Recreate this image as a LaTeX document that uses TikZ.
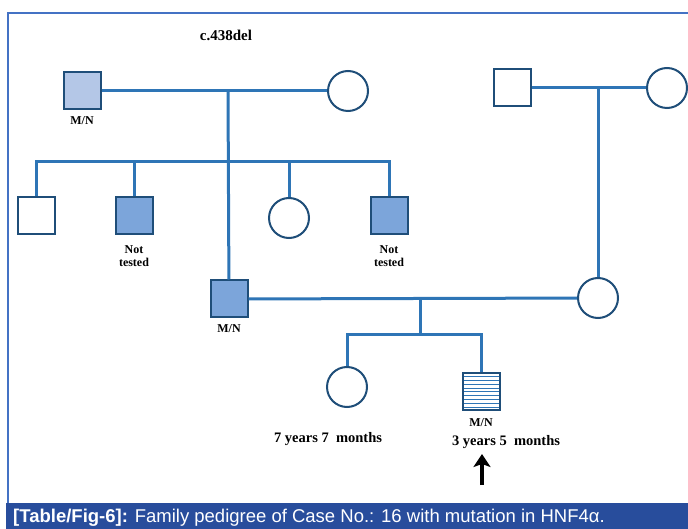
\documentclass[tikz,border=0pt]{standalone}
\usepackage{fontspec}
\setmainfont{Liberation Serif}
\newfontfamily\capfont{Liberation Sans}
\usetikzlibrary{arrows.meta,positioning}
\definecolor{linkblue}{RGB}{46,117,182}
\definecolor{edgeblue}{RGB}{31,78,121}
\definecolor{carrier}{RGB}{180,199,231}
\definecolor{affected}{RGB}{124,165,218}
\definecolor{framecol}{RGB}{68,114,196}
\definecolor{capblue}{RGB}{40,77,156}
\tikzset{
  male/.style={draw=edgeblue,line width=2pt,minimum size=37pt,inner sep=0pt,fill=white},
  female/.style={circle,draw=edgeblue,line width=2pt,minimum size=40pt,inner sep=0pt,fill=white},
  link/.style={draw=linkblue,line width=3pt},
  lbl/.style={font=\bfseries\fontsize{12}{13.5}\selectfont,align=center,inner sep=0pt},
  agelbl/.style={font=\bfseries\fontsize{14.5}{16}\selectfont,inner sep=0pt},
  hatched/.style={path picture={\foreach \k in {1,...,9}
    \draw[linkblue,line width=0.8pt] ([yshift=-\k*3.85pt]path picture bounding box.north west)
      -- ([yshift=-\k*3.85pt]path picture bounding box.north east);}}
}
\begin{document}
\begin{tikzpicture}[x=1pt,y=-1pt]
\useasboundingbox (0,0) rectangle (688,529);
\draw[framecol,line width=1.4pt] (8,503) |- (688,13);
\node[font=\bfseries\fontsize{15}{17}\selectfont] (mut) at (226,35) {c.438del};
% first generation
\node[male,fill=carrier] (gf) at (82,91) {};
\node[female] (gm) at (348,91) {};
\node[male] (rgf) at (512,88) {};
\node[female] (rgm) at (667,88) {};
% second generation
\node[male] (c1) at (36,216) {};
\node[male,fill=affected] (c2) at (134,216) {};
\node[female] (c4) at (289,218) {};
\node[male,fill=affected] (c5) at (389,216) {};
\node[male,fill=affected] (fa) at (229,299) {};
\node[female] (mo) at (598,298) {};
% third generation
\node[female] (d1) at (347,387) {};
\node[male,hatched] (pb) at (481,391) {};
\coordinate (j1) at (228,90);
\coordinate (sib1) at (228,162);
\coordinate (j2) at (598,88);
\coordinate (j3) at (420,298);
\coordinate (sib2) at (420,334);
\draw[link] (gf) -- (gm);
\draw[link] (j1) -- (fa);
\draw[link] (c1.north) |- (sib1) -| (c5.north);
\draw[link] (c2.north) -- (c2.north |- sib1);
\draw[link] (c4.north) -- (c4.north |- sib1);
\draw[link] (rgf) -- (rgm);
\draw[link] (j2) -- (mo);
\draw[link] (fa) -- (mo);
\draw[link] (j3) -- (sib2);
\draw[link] (d1.north) |- (sib2) -| (pb.north);
\node[lbl] (gfl) at (82,121) {M/N};
\node[lbl] (c2l) at (134,256) {Not\\tested};
\node[lbl] (c5l) at (389,256) {Not\\tested};
\node[lbl] (fal) at (229,329) {M/N};
\node[lbl] (pbl) at (481,423) {M/N};
\node[agelbl] (d1age) at (328,439) {7 years 7\ \ months};
\node[agelbl] (pbage) at (506,442) {3 years 5\ \ months};
\coordinate (ar0) at (482,485);
\coordinate (ar1) at (482,454);
\draw[line width=3.6pt,-{Stealth[length=13pt,width=17pt,inset=3pt]}] (ar0) -- (ar1);
% caption
\fill[capblue] (6,503) rectangle (688,529);
\node[anchor=base west,text=white,font=\capfont\fontsize{18.5}{20}\selectfont,inner sep=0pt] (cap) at (13,522.5)
  {\textbf{[Table/Fig-6]:} Family pedigree of Case No.: 16 with mutation in HNF4α.};
\end{tikzpicture}
\end{document}
